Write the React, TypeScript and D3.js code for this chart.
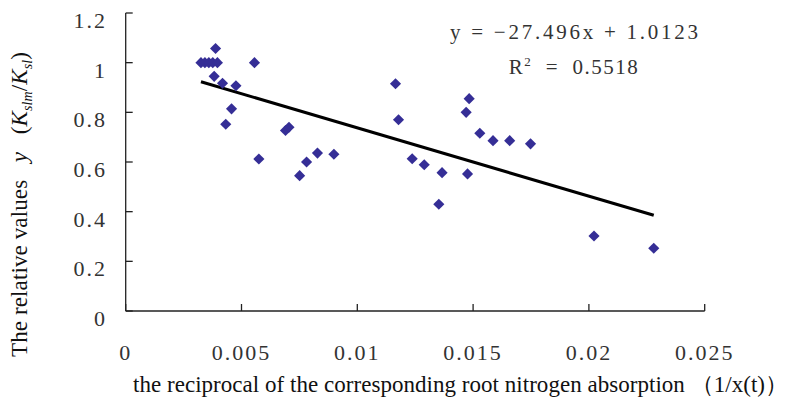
import React from "react";
import * as d3 from "d3";

const xValues = [
  0.00325, 0.00342, 0.00359, 0.00376, 0.00396, 0.00388, 0.00382, 0.00418, 0.00476,
  0.00457, 0.00432, 0.00556, 0.00575, 0.0069, 0.00705, 0.00751, 0.00781, 0.00828,
  0.00899, 0.01165, 0.01178, 0.01237, 0.01289, 0.01366, 0.01352, 0.01476, 0.0147,
  0.01483, 0.01529, 0.01586, 0.01658, 0.01748, 0.02022, 0.0228,
];
const yValues = [
  1.0, 1.0, 1.0, 1.0, 1.0, 1.057, 0.945, 0.917, 0.907,
  0.814, 0.752, 1.0, 0.612, 0.727, 0.74, 0.545, 0.6, 0.636,
  0.631, 0.915, 0.77, 0.613, 0.589, 0.557, 0.43, 0.552, 0.8,
  0.855, 0.716, 0.686, 0.686, 0.673, 0.302, 0.2525,
];
const xTicks = [0, 0.005, 0.01, 0.015, 0.02, 0.025];
const xTickLabels = ["0", "0.005", "0.01", "0.015", "0.02", "0.025"];
const yTicks = [0, 0.2, 0.4, 0.6, 0.8, 1.0, 1.2];
const yTickLabels = ["0", "0.2", "0.4", "0.6", "0.8", "1", "1.2"];
const slope = -27.496;
const intercept = 1.0123;
const equationText = "y = \u221227.496x + 1.0123";
const r2Value = "0.5518";

const W = 787;
const H = 404;
const serif = "'Liberation Serif', 'DejaVu Serif', serif";

export default function App() {
  const x = d3.scaleLinear().domain([0, 0.025]).range([125.7, 704.7]);
  const y = d3.scaleLinear().domain([0, 1.2]).range([311, 13]);
  const xMin = d3.min(xValues) as number;
  const xMax = d3.max(xValues) as number;
  const line = d3.line<number>().x((d) => x(d)).y((d) => y(slope * d + intercept));
  const diamond = d3.symbol().type(d3.symbolSquare).size(62)() as string;
  const tick = 7;
  const color = "#352E96";

  return (
    <svg
      width={W}
      height={H}
      style={{ position: "absolute", left: 0, top: 0, background: "#fff" }}
    >
      <rect width={W} height={H} fill="#fff" />
      {/* axes */}
      <line x1={x(0)} x2={x(0)} y1={y(1.2)} y2={y(0)} stroke="#222" strokeWidth={1.3} />
      <line x1={x(0)} x2={x(0.025)} y1={y(0)} y2={y(0)} stroke="#222" strokeWidth={1.3} />
      {yTicks.map((t, i) => (
        <g key={"yt" + i}>
          <line x1={x(0)} x2={x(0) + tick} y1={y(t)} y2={y(t)} stroke="#222" strokeWidth={1.3} />
          <text
            x={107}
            y={y(t) + 10}
            textAnchor="end"
            dominantBaseline="middle"
            fontFamily={serif}
            fontSize={22}
            letterSpacing={2}
            fill="#333"
          >
            {yTickLabels[i]}
          </text>
        </g>
      ))}
      {xTicks.map((t, i) => (
        <g key={"xt" + i}>
          <line x1={x(t)} x2={x(t)} y1={y(0)} y2={y(0) - tick} stroke="#222" strokeWidth={1.3} />
          <text
            x={x(t)}
            y={355}
            textAnchor="middle"
            dominantBaseline="middle"
            fontFamily={serif}
            fontSize={22}
            letterSpacing={2}
            fill="#333"
          >
            {xTickLabels[i]}
          </text>
        </g>
      ))}
      {/* trend line */}
      <path d={line([xMin, xMax]) as string} stroke="#000" strokeWidth={3} fill="none" />
      {/* points */}
      {xValues.map((v, i) => (
        <path
          key={"p" + i}
          d={diamond}
          transform={`translate(${x(v)},${y(yValues[i])}) rotate(45)`}
          fill={color}
        />
      ))}
      {/* equation */}
      <text
        x={574}
        y={39}
        textAnchor="middle"
        fontFamily={serif}
        fontSize={21}
        fill="#333"
        textLength={248}
        lengthAdjust="spacing"
      >
        {equationText}
      </text>
      <text
        x={574}
        y={74}
        textAnchor="middle"
        fontFamily={serif}
        fontSize={21}
        fill="#333"
        letterSpacing={1.5}
        style={{ whiteSpace: "pre" }}
      >
        R<tspan dy={-8} fontSize={13}>2</tspan>
        <tspan dy={8}>{"  =  "}{r2Value}</tspan>
      </text>
      {/* x axis title */}
      <text
        x={133}
        y={392}
        fontFamily={serif}
        fontSize={23}
        fill="#111"
        textLength={655}
        lengthAdjust="spacing"
      >
        the reciprocal of the corresponding root nitrogen absorption {"\uFF08"}1/x(t){"\uFF09"}
      </text>
      {/* y axis title */}
      <text
        transform={`translate(27,357) rotate(-90)`}
        fontFamily={serif}
        fontSize={23}
        fill="#111"
        textLength={305}
        lengthAdjust="spacing"
        style={{ whiteSpace: "pre" }}
      >
        {"The relative values   "}
        <tspan fontStyle="italic">y</tspan>
        {"   ("}
        <tspan fontStyle="italic">K</tspan>
        <tspan fontStyle="italic" fontSize={14} dy={5}>slm</tspan>
        <tspan dy={-5}>/</tspan>
        <tspan fontStyle="italic">K</tspan>
        <tspan fontStyle="italic" fontSize={14} dy={5}>sl</tspan>
        <tspan dy={-5}>)</tspan>
      </text>
    </svg>
  );
}
